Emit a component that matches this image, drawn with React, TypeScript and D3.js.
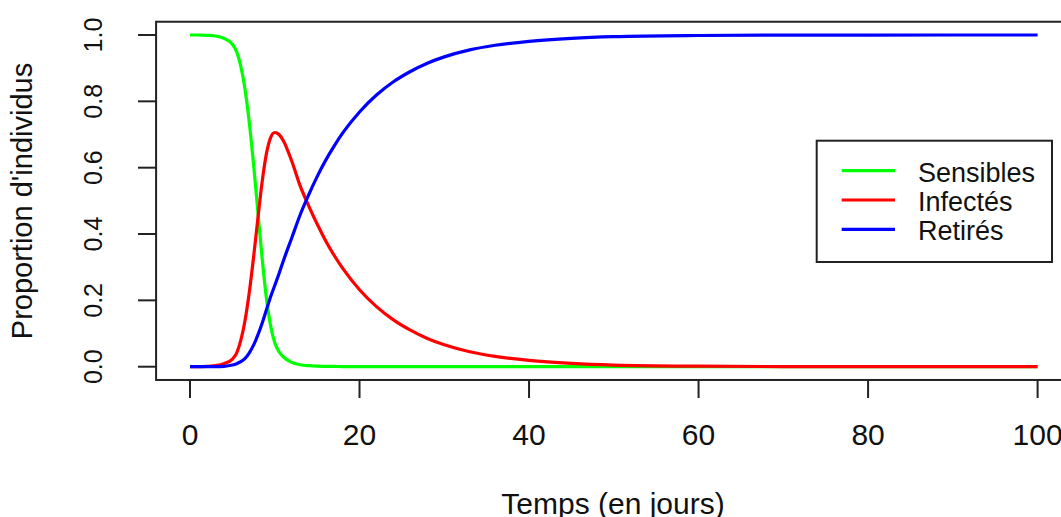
import React from "react";
import * as d3 from "d3";

// Time points (days)
const times = [0, 1, 2, 3, 4, 5, 5.5, 6, 6.5, 7, 7.5, 8, 8.5, 9, 9.5, 10, 10.5, 11, 12, 13, 14, 15, 16, 17, 18, 20, 22, 24, 26, 28, 30, 33, 36, 40, 45, 50, 60, 70, 80, 100];
// Sensibles
const sensibles = [1.0, 1.0, 0.999, 0.997, 0.99, 0.972, 0.95, 0.905, 0.835, 0.735, 0.61, 0.47, 0.33, 0.21, 0.125, 0.072, 0.045, 0.03, 0.013, 0.006, 0.003, 0.0015, 0.001, 0.0007, 0.0005, 0.0002, 0.0001, 0, 0, 0, 0, 0, 0, 0, 0, 0, 0, 0, 0, 0];
// Infectés
const infectes = [0, 0, 0.001, 0.003, 0.009, 0.023, 0.041, 0.08, 0.14, 0.225, 0.33, 0.445, 0.555, 0.64, 0.69, 0.706, 0.7, 0.682, 0.62, 0.545, 0.485, 0.43, 0.38, 0.336, 0.297, 0.232, 0.181, 0.141, 0.11, 0.085, 0.066, 0.045, 0.031, 0.019, 0.01, 0.005, 0.0015, 0.0004, 0.0001, 0];
// Retirés
const retires = [0, 0, 0, 0, 0.001, 0.005, 0.009, 0.015, 0.025, 0.042, 0.065, 0.095, 0.13, 0.17, 0.21, 0.245, 0.28, 0.318, 0.388, 0.458, 0.518, 0.573, 0.622, 0.665, 0.704, 0.768, 0.819, 0.859, 0.89, 0.915, 0.934, 0.955, 0.969, 0.981, 0.99, 0.995, 0.9985, 0.9996, 0.9999, 1.0];

const xTicks = [0, 20, 40, 60, 80, 100];
const yTicks = [0, 0.2, 0.4, 0.6, 0.8, 1.0];

const seriesNames = ["Sensibles", "Infectés", "Retirés"];
const seriesColors = ["#00ff00", "#ff0000", "#0000ff"];
const seriesValues = [sensibles, infectes, retires];

const W = 1061;
const H = 517;

export default function App() {
  const x = d3.scaleLinear().domain([0, 100]).range([190, 1037.6]);
  const y = d3.scaleLinear().domain([0, 1]).range([366.7, 35]);
  const x0 = x(-4);
  const x1 = x(104);
  const yTop = y(1.04);
  const yBot = y(-0.04);

  const line = d3
    .line<number>()
    .x((_, i) => x(times[i]))
    .y((d) => y(d))
    .curve(d3.curveMonotoneX);

  const font = "'Liberation Sans', Arial, sans-serif";
  const legendYs = [170.7, 200, 229.3];

  return (
    <svg
      width={W}
      height={H}
      style={{ position: "absolute", left: 0, top: 0, background: "#fff" }}
      fontFamily={font}
    >
      <rect x={0} y={0} width={W} height={H} fill="#fff" />
      {seriesValues.map((vals, k) => (
        <path key={k} d={line(vals) || ""} fill="none" stroke={seriesColors[k]} strokeWidth={3.2} strokeLinejoin="round" />
      ))}
      {/* box */}
      <rect x={x0} y={yTop} width={x1 - x0} height={yBot - yTop} fill="none" stroke="#222" strokeWidth={2} />
      {/* x axis */}
      {xTicks.map((t) => (
        <g key={t}>
          <line x1={x(t)} x2={x(t)} y1={yBot} y2={398} stroke="#222" strokeWidth={2} />
          <text x={x(t)} y={445} textAnchor="middle" fontSize={30} fill="#111">
            {t}
          </text>
        </g>
      ))}
      {/* y axis */}
      {yTicks.map((t) => (
        <g key={t}>
          <line x1={138} x2={x0} y1={y(t)} y2={y(t)} stroke="#222" strokeWidth={2} />
          <text
            transform={`translate(102,${y(t)}) rotate(-90)`}
            textAnchor="middle"
            fontSize={25}
            fill="#111"
          >
            {t.toFixed(1)}
          </text>
        </g>
      ))}
      <text x={613} y={514} textAnchor="middle" fontSize={30} fill="#111">
        Temps (en jours)
      </text>
      <text transform={`translate(32,201) rotate(-90)`} textAnchor="middle" fontSize={29} fill="#111">
        Proportion d'individus
      </text>
      {/* legend */}
      <rect x={816.7} y={140.7} width={235.3} height={121.3} fill="#fff" stroke="#222" strokeWidth={2} />
      {seriesNames.map((n, k) => (
        <g key={n}>
          <line x1={841.7} x2={895} y1={legendYs[k]} y2={legendYs[k]} stroke={seriesColors[k]} strokeWidth={3.2} />
          <text x={918} y={legendYs[k] + 11} fontSize={27} fill="#111">
            {n}
          </text>
        </g>
      ))}
    </svg>
  );
}
